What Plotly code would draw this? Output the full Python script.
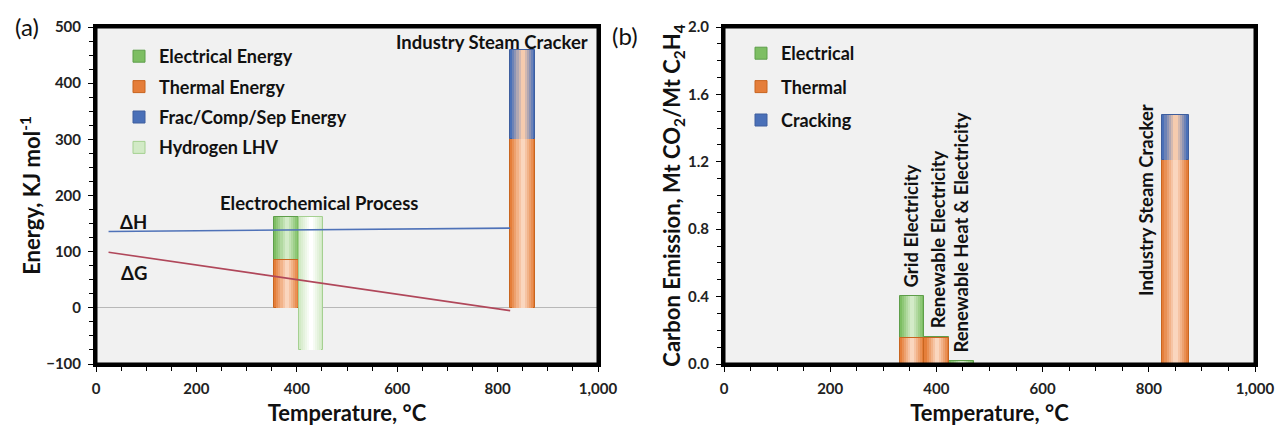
import plotly.graph_objects as go

# ---------------- data ----------------
# Panel (a): energy vs temperature
line_temp = [25, 825]
dH_vals = [136, 142]
dG_vals = [99, -5]

a_processes = ["Electrochemical Process", "Industry Steam Cracker"]
a_temp = [380, 850]
a_thermal = [86, 300]
a_electrical = [76, 0]
a_frac = [0, 159]

lhv_temp = [428]
lhv_bottom = [-75]
lhv_top = [162]

# Panel (b): carbon emission
b_cases = ["Grid Electricity", "Renewable Electricity",
           "Renewable Heat & Electricity", "Industry Steam Cracker"]
b_temp = [354, 401, 448, 850]
b_thermal = [0.155, 0.155, 0.0, 1.21]
b_electrical = [0.25, 0.005, 0.015, 0.0]
b_cracking = [0.0, 0.0, 0.0, 0.27]

FONT = "Lato"

W, H = 1278, 426
TOP, BOT = 27, 364       # plot area top / bottom in pixels
PH = BOT - TOP


def px(p):
    return p / W


def py(p):
    return (BOT - p) / PH


# (edge line, outer fill, centre fill) for the gradient-like bars
GREEN = ("#5E9E4A", "#7DBE63", "#D3EBC8")
ORANGE = ("#C8651F", "#E57E3A", "#FAD6BE")
BLUE = ("#3E5E9E", "#4A70B8", "#F5CBAE")
LHV = ("#A5D091", "#D2EAC6", "#FFFFFF")
N_LAYERS = 6


def mix(c1, c2, t):
    a = [int(c1[i:i + 2], 16) for i in (1, 3, 5)]
    b = [int(c2[i:i + 2], 16) for i in (1, 3, 5)]
    return "#" + "".join(f"{round(x + (y - x) * t):02X}" for x, y in zip(a, b))


fig = go.Figure()


def add_segment(xs, bases, heights, width, pal, name, legend, xa, ya):
    idx = [i for i, h in enumerate(heights) if h > 0]
    x = [xs[i] for i in idx]
    b = [bases[i] for i in idx]
    h = [heights[i] for i in idx]
    w = [width[i] for i in idx]
    edge, outer, centre = pal
    for k in range(N_LAYERS):
        t = k / (N_LAYERS - 1)
        frac = 1 - k / N_LAYERS
        first = k == 0
        fig.add_trace(go.Bar(
            x=x, y=h, base=b, width=[v * frac for v in w], name=name,
            marker=dict(color=mix(outer, centre, t),
                        line=dict(color=edge, width=1 if first else 0)),
            showlegend=first, legend=legend, legendgroup=name,
            hoverinfo=None if first else "skip", xaxis=xa, yaxis=ya))


# ---- panel (a) lines ----
fig.add_trace(go.Scatter(x=line_temp, y=dH_vals, mode="lines", line=dict(color="#4F72B8", width=1.6),
                         showlegend=False, xaxis="x", yaxis="y"))
fig.add_trace(go.Scatter(x=line_temp, y=dG_vals, mode="lines", line=dict(color="#B0475A", width=1.6),
                         showlegend=False, xaxis="x", yaxis="y"))

# ---- panel (a) bars ----
wa = [50] * len(a_temp)
zeros_a = [0] * len(a_temp)
add_segment(a_temp, a_thermal, a_electrical, wa, GREEN, "Electrical Energy", "legend", "x", "y")
add_segment(a_temp, zeros_a, a_thermal, wa, ORANGE, "Thermal Energy", "legend", "x", "y")
add_segment(a_temp, a_thermal, a_frac, wa, BLUE, "Frac/Comp/Sep Energy", "legend", "x", "y")
add_segment(lhv_temp, lhv_bottom, [t - b for t, b in zip(lhv_top, lhv_bottom)], [48], LHV,
            "Hydrogen LHV", "legend", "x", "y")

# ---- panel (b) bars ----
wb = [47, 47, 47, 50]
zeros_b = [0] * len(b_temp)
add_segment(b_temp, b_thermal, b_electrical, wb, GREEN, "Electrical", "legend2", "x2", "y2")
add_segment(b_temp, zeros_b, b_thermal, wb, ORANGE, "Thermal", "legend2", "x2", "y2")
add_segment(b_temp, b_thermal, b_cracking, wb, BLUE, "Cracking", "legend2", "x2", "y2")

# ---------------- annotations ----------------
ann = []
tf = dict(family=FONT, size=18.5, color="#111111", weight="bold")
ann.append(dict(x=a_temp[1] - 61, y=473, xref="x", yref="y", text=a_processes[1], showarrow=False, font=tf))
ann.append(dict(x=444, y=187, xref="x", yref="y", text=a_processes[0], showarrow=False, font=tf))
ann.append(dict(x=75, y=153, xref="x", yref="y", text="ΔH", showarrow=False, font=tf))
ann.append(dict(x=75, y=62, xref="x", yref="y", text="ΔG", showarrow=False, font=tf))

b_tot = [t + e + c for t, e, c in zip(b_thermal, b_electrical, b_cracking)]
for i in range(3):
    ann.append(dict(x=b_temp[i] - 2 + (4 if i == 1 else 0), y=b_tot[i] + 0.04, xref="x2", yref="y2",
                    text=b_cases[i], textangle=-90, yanchor="bottom", showarrow=False, font=tf))
ann.append(dict(x=b_temp[3] - 54, y=0.39, xref="x2", yref="y2", text=b_cases[3], textangle=-90,
                yanchor="bottom", showarrow=False, font=tf))

ann.append(dict(x=px(27), y=py(26), xref="paper", yref="paper", text="(a)", showarrow=False,
                xanchor="center", yanchor="middle",
                font=dict(family=FONT, size=24, color="#111111")))
ann.append(dict(x=px(625), y=py(35), xref="paper", yref="paper", text="(b)", showarrow=False,
                xanchor="center", yanchor="middle",
                font=dict(family=FONT, size=24, color="#111111")))

# frames around the two plot areas
shapes = [
    dict(type="rect", xref="x domain", yref="y domain", x0=0, x1=1, y0=0, y1=1,
         line=dict(color="black", width=3), layer="above"),
    dict(type="rect", xref="x2 domain", yref="y2 domain", x0=0, x1=1, y0=0, y1=1,
         line=dict(color="black", width=3), layer="above"),
]

# ---------------- axes ----------------
tickfont = dict(family=FONT, size=15, color="#222222", weight="bold")
titlefont = dict(family=FONT, size=22, color="#111111", weight="bold")
common = dict(showline=True, linecolor="#000000", linewidth=3, mirror=True, showgrid=False,
              ticks="outside", ticklen=5, tickwidth=1.2, tickcolor="black", tickfont=tickfont,
              layer="above traces", automargin=False)

fig.update_layout(
    width=W, height=H,
    margin=dict(l=0, r=0, t=TOP, b=H - BOT, autoexpand=False),
    paper_bgcolor="white", plot_bgcolor="#F1F1F1",
    barmode="overlay", bargap=0,
    font=dict(family=FONT),
    annotations=ann,
    shapes=shapes,
    xaxis=dict(domain=[px(96), px(598)], range=[0, 1000], dtick=200, tickformat=",d",
               minor=dict(ticks="outside", dtick=50, ticklen=4, tickcolor="black"),
               ticklabelstandoff=4,
               title=dict(text="Temperature, °C", font=titlefont, standoff=12), zeroline=False,
               anchor="y", **common),
    yaxis=dict(domain=[0, 1], range=[-100, 500], dtick=100,
               minor=dict(ticks="outside", dtick=25, ticklen=4, tickcolor="black"),
               ticklabelstandoff=4,
               title=dict(text="Energy, KJ mol<sup>-1</sup>", font=titlefont, standoff=0),
               zeroline=True, zerolinecolor="#B8B8B8", zerolinewidth=1, anchor="x", **common),
    xaxis2=dict(domain=[px(724), px(1255)], range=[0, 1000], dtick=200, tickformat=",d",
                minor=dict(ticks="outside", dtick=50, ticklen=4, tickcolor="black"),
                ticklabelstandoff=4,
                title=dict(text="Temperature, °C", font=titlefont, standoff=12), zeroline=False,
                anchor="y2", **common),
    yaxis2=dict(domain=[0, 1], range=[0, 2], dtick=0.4, tickformat=".1f",
                minor=dict(ticks="outside", dtick=0.1, ticklen=4, tickcolor="black"),
                ticklabelstandoff=4,
                title=dict(text="Carbon Emission, Mt CO<sub>2</sub>/Mt C<sub>2</sub>H<sub>4</sub>",
                           font=titlefont, standoff=0),
                zeroline=False, anchor="x2", **common),
    legend=dict(x=px(119), y=py(38), xanchor="left", yanchor="top",
                bgcolor="rgba(0,0,0,0)", traceorder="grouped", tracegroupgap=4,
                font=dict(family=FONT, size=18, color="#111111", weight="bold")),
    legend2=dict(x=px(741), y=py(35), xanchor="left", yanchor="top",
                 bgcolor="rgba(0,0,0,0)", traceorder="grouped", tracegroupgap=7,
                 font=dict(family=FONT, size=18, color="#111111", weight="bold")),
)

# remove the default page margin so the figure sits at the window's top-left corner
fig.write_html("out.html", config={"displayModeBar": False},
               post_script="document.documentElement.style.overflow='hidden';"
                           "document.body.style.margin='0';document.body.style.overflow='hidden';")
